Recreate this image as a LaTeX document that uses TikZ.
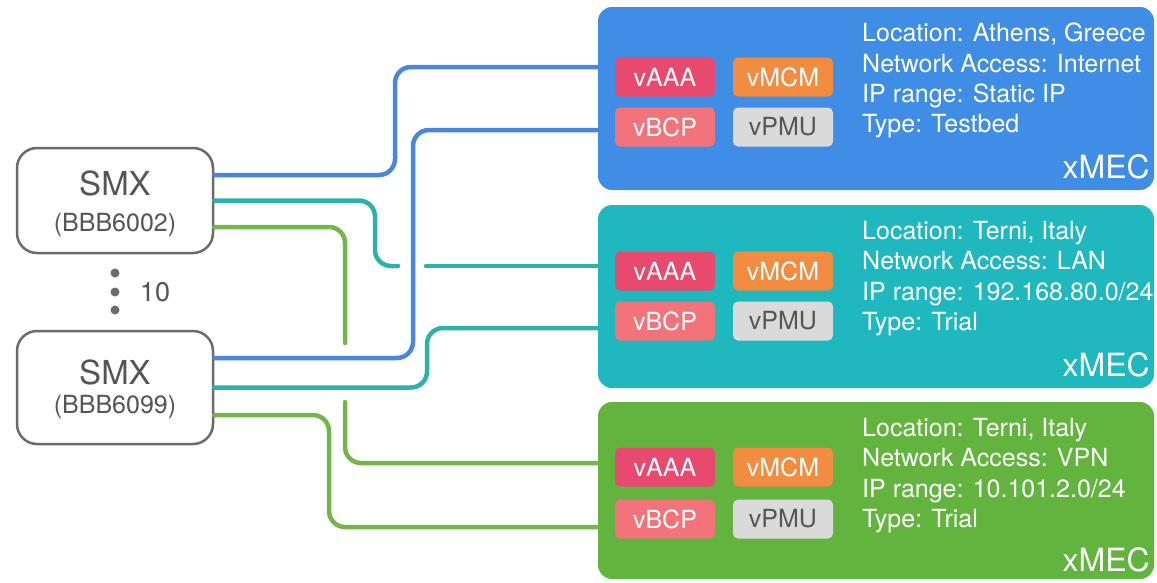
\documentclass[tikz,border=0pt]{standalone}
\usepackage{fontspec}
\setmainfont{TeX Gyre Heros}

\definecolor{mecblue}{HTML}{3F8DE4}
\definecolor{mecteal}{HTML}{20B8BF}
\definecolor{mecgreen}{HTML}{62B43E}
\definecolor{lineblue}{HTML}{4A86DB}
\definecolor{lineteal}{HTML}{2DB2AA}
\definecolor{linegreen}{HTML}{74B54A}
\definecolor{svcaaa}{HTML}{E84A6F}
\definecolor{svcmcm}{HTML}{F28C40}
\definecolor{svcbcp}{HTML}{F2737A}
\definecolor{svcpmu}{HTML}{DADADA}
\definecolor{smxgray}{HTML}{6B6B6B}
\definecolor{smxtext}{HTML}{555555}

\begin{document}
\begin{tikzpicture}[x=1pt, y=-1pt,
    smx/.style={draw=smxgray, line width=2.5pt, rounded corners=20pt, fill=white, minimum width=196pt, inner sep=0pt},
    smxname/.style={text=smxtext, inner sep=0pt, font=\fontsize{33}{33}\selectfont},
    smxid/.style={text=smxtext, inner sep=0pt, font=\fontsize{25}{25}\selectfont},
    mec/.style={rounded corners=14pt, minimum width=556pt, minimum height=183pt, inner sep=0pt},
    svc/.style={rounded corners=5pt, minimum width=100pt, minimum height=39pt, inner sep=0pt, text=white, font=\fontsize{25}{25}\selectfont},
    info/.style={anchor=north west, align=left, inner sep=0pt, text=white, font=\fontsize{25}{30.3}\selectfont},
    tag/.style={anchor=east, inner sep=0pt, text=white, font=\fontsize{32}{32}\selectfont},
    link/.style={line width=4.5pt, line cap=round, rounded corners=16pt}]
    \useasboundingbox (0,0) rectangle (1157,582) ;

    % the two SMX hosts
    \node (smxA) [smx, minimum height=105pt] at (115,200.5) {} ;
    \node (smxAname) [smxname] at (115,183) {SMX} ;
    \node (smxAid) [smxid] at (115,225) {(BBB6002)} ;
    \node (smxB) [smx, minimum height=113pt] at (115,387.5) {} ;
    \node (smxBname) [smxname] at (115,372) {SMX} ;
    \node (smxBid) [smxid] at (115,407) {(BBB6099)} ;
    \fill [smxgray] (115,273) circle (4.5pt) ;
    \fill [smxgray] (115,292) circle (4.5pt) ;
    \fill [smxgray] (115,310) circle (4.5pt) ;
    \node (count) [text=smxtext, inner sep=0pt, font=\fontsize{27}{27}\selectfont] at (155,292) {10} ;

    % xMEC sites
    \node (mecA) [mec, fill=mecblue] at (876,98.5) {} ;
    \node (aaaA) [svc, fill=svcaaa] at (665,77) {vAAA} ;
    \node (mcmA) [svc, fill=svcmcm] at (783,77) {vMCM} ;
    \node (bcpA) [svc, fill=svcbcp] at (665,127) {vBCP} ;
    \node (pmuA) [svc, fill=svcpmu, text=smxtext] at (783,127) {vPMU} ;
    \node (infoA) [info] at (862,23) {Location: Athens, Greece\\Network Access: Internet\\IP range: Static IP\\Type: Testbed} ;
    \node (tagA) [tag] at (1150,167) {xMEC} ;

    \node (mecB) [mec, fill=mecteal] at (876,296.5) {} ;
    \node (aaaB) [svc, fill=svcaaa] at (665,271) {vAAA} ;
    \node (mcmB) [svc, fill=svcmcm] at (783,271) {vMCM} ;
    \node (bcpB) [svc, fill=svcbcp] at (665,321) {vBCP} ;
    \node (pmuB) [svc, fill=svcpmu, text=smxtext] at (783,321) {vPMU} ;
    \node (infoB) [info] at (862,221) {Location: Terni, Italy\\Network Access: LAN\\IP range: 192.168.80.0/24\\Type: Trial} ;
    \node (tagB) [tag] at (1150,365) {xMEC} ;

    \node (mecC) [mec, fill=mecgreen, minimum height=177pt] at (876,490.5) {} ;
    \node (aaaC) [svc, fill=svcaaa] at (665,467) {vAAA} ;
    \node (mcmC) [svc, fill=svcmcm] at (783,467) {vMCM} ;
    \node (bcpC) [svc, fill=svcbcp] at (665,519) {vBCP} ;
    \node (pmuC) [svc, fill=svcpmu, text=smxtext] at (783,519) {vPMU} ;
    \node (infoC) [info] at (862,418) {Location: Terni, Italy\\Network Access: VPN\\IP range: 10.101.2.0/24\\Type: Trial} ;
    \node (tagC) [tag] at (1150,560) {xMEC} ;

    % gaps where the links cross
    \coordinate (tgapA) at (398,266) ;
    \coordinate (tgapB) at (426,266) ;
    \coordinate (ggapA) at (345,343) ;
    \coordinate (ggapB) at (345,402) ;

    % links
    \draw [link, lineblue] ([yshift=25.5pt]smxA.east) -- (395,175) -- (395,67) -- ([yshift=31.5pt]mecA.west) ;
    \draw [link, lineteal] (smxA.east) -- (375,200.5) -- (375,266) -- (tgapA) ;
    \draw [link, lineteal] (tgapB) -- ([yshift=30.5pt]mecB.west) ;
    \draw [link, linegreen] ([yshift=-26.5pt]smxA.east) -- (345,227) -- (ggapA) ;
    \draw [link, linegreen] (ggapB) -- (345,463) -- ([yshift=27.5pt]mecC.west) ;
    \draw [link, lineblue] ([yshift=29.5pt]smxB.east) -- (413,358) -- (413,130) -- ([yshift=-31.5pt]mecA.west) ;
    \draw [link, lineteal] (smxB.east) -- (427,387.5) -- (427,328) -- ([yshift=-31.5pt]mecB.west) ;
    \draw [link, linegreen] ([yshift=-27.5pt]smxB.east) -- (329,415) -- (329,527) -- ([yshift=-36.5pt]mecC.west) ;
\end{tikzpicture}
\end{document}
